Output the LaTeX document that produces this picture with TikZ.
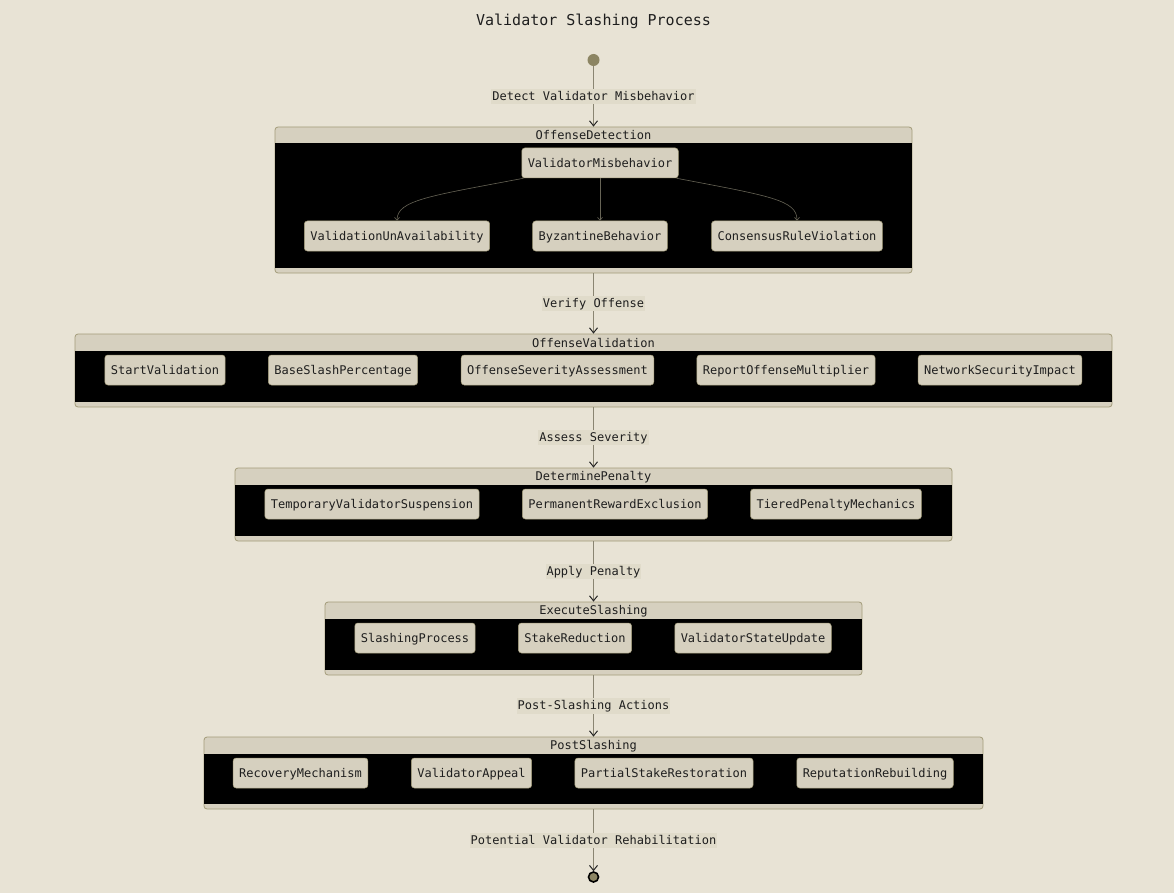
\documentclass[tikz,border=0pt]{standalone}
\usepackage{fontspec}
\setmonofont{DejaVu Sans Mono}
\usetikzlibrary{arrows.meta}
\definecolor{bgc}{HTML}{E8E3D5}
\definecolor{hdr}{HTML}{D6D0BF}
\definecolor{bdr}{HTML}{A39C7A}
\definecolor{lbg}{HTML}{E0DBCA}
\definecolor{olive}{HTML}{8C8563}
\definecolor{lnc}{HTML}{8A8572}
\definecolor{txt}{HTML}{1E1E1E}
\tikzset{
  state/.style={draw=bdr, fill=hdr, rounded corners=3pt, minimum height=30pt, inner xsep=6pt, inner ysep=0pt, text height=10pt, text depth=1.5pt, font=\ttfamily\fontsize{12}{14}\selectfont, text=txt, line width=0.5pt},
  container/.style={draw=bdr, fill=hdr, rounded corners=3pt, line width=0.8pt, inner sep=0pt},
  ctitle/.style={font=\ttfamily\fontsize{12}{14}\selectfont, text=txt, inner sep=0pt},
  elabel/.style={fill=lbg, font=\ttfamily\fontsize{12}{14}\selectfont, text=txt, inner xsep=1pt, inner ysep=2pt, text height=9.5pt, text depth=2pt},
  arr/.style={draw=lnc, line width=0.8pt, -{Straight Barb[length=5pt,width=8pt,line width=1pt,color=black!85]}},
  iarr/.style={draw=lnc!75!black, line width=0.6pt, -{Straight Barb[length=3pt,width=5pt]}},
}
\begin{document}
\begin{tikzpicture}[x=1pt,y=-1pt]
\fill[bgc] (0,0) rectangle (1174,893);
\useasboundingbox (0,0) rectangle (1174,893);

\node[font=\ttfamily\fontsize{15}{18}\selectfont, text=txt] (title) at (593.5,21) {Validator Slashing Process};

\node[circle, fill=olive, minimum size=12pt, inner sep=0pt] (init) at (593.5,60) {};

% Container 1
\node[container, minimum width=637pt, minimum height=146pt] (c1) at (593.5,200) {};
\fill[black] (275.4,143) rectangle (911.6,268);
\node[ctitle] (c1t) at (593.5,135.5) {OffenseDetection};
\node[state] (vm) at (600,163) {ValidatorMisbehavior};
\node[state] (vua) at (397,236) {ValidationUnAvailability};
\node[state] (bb) at (600,236) {ByzantineBehavior};
\node[state] (crv) at (797,236) {ConsensusRuleViolation};
\draw[iarr] ([xshift=2pt]vm.south west) .. controls (430,196) and (397,200) .. (vua.north);
\draw[iarr] (vm.south) -- (bb.north);
\draw[iarr] ([xshift=-2pt]vm.south east) .. controls (770,196) and (797,200) .. (crv.north);

% Container 2
\node[container, minimum width=1037pt, minimum height=73pt] (c2) at (593.5,370.5) {};
\fill[black] (75.4,351) rectangle (1111.6,402);
\node[ctitle] (c2t) at (593.5,343) {OffenseValidation};
\node[state] (sv) at (165,370) {StartValidation};
\node[state] (bsp) at (343,370) {BaseSlashPercentage};
\node[state] (osa) at (557.5,370) {OffenseSeverityAssessment};
\node[state] (rom) at (786,370) {ReportOffenseMultiplier};
\node[state] (nsi) at (1000,370) {NetworkSecurityImpact};

% Container 3
\node[container, minimum width=717pt, minimum height=73pt] (c3) at (593.5,504.5) {};
\fill[black] (235.4,485) rectangle (951.6,536);
\node[ctitle] (c3t) at (593.5,477) {DeterminePenalty};
\node[state] (tvs) at (372,504) {TemporaryValidatorSuspension};
\node[state] (pre) at (615,504) {PermanentRewardExclusion};
\node[state] (tpm) at (836,504) {TieredPenaltyMechanics};

% Container 4
\node[container, minimum width=537pt, minimum height=73pt] (c4) at (593.5,638.5) {};
\fill[black] (325.4,619) rectangle (861.6,670);
\node[ctitle] (c4t) at (593.5,611) {ExecuteSlashing};
\node[state] (sp) at (415,638) {SlashingProcess};
\node[state] (sr) at (575,638) {StakeReduction};
\node[state] (vsu) at (753,638) {ValidatorStateUpdate};

% Container 5
\node[container, minimum width=779pt, minimum height=72pt] (c5) at (593.5,773) {};
\fill[black] (204.4,754) rectangle (982.6,804);
\node[ctitle] (c5t) at (593.5,746) {PostSlashing};
\node[state] (rm) at (300.5,773) {RecoveryMechanism};
\node[state] (va) at (471.5,773) {ValidatorAppeal};
\node[state] (psr) at (664,773) {PartialStakeRestoration};
\node[state] (rr) at (875,773) {ReputationRebuilding};

% Final
\node[circle, draw=black, line width=1.6pt, fill=olive, minimum size=10pt, inner sep=0pt] (fin) at (593.5,877) {};

% Main flow
\draw[arr] (init) -- (c1.north) node[midway, elabel] {Detect Validator Misbehavior};
\draw[arr] (c1.south) -- (c2.north) node[midway, elabel] {Verify Offense};
\draw[arr] (c2.south) -- (c3.north) node[midway, elabel] {Assess Severity};
\draw[arr] (c3.south) -- (c4.north) node[midway, elabel] {Apply Penalty};
\draw[arr] (c4.south) -- (c5.north) node[midway, elabel] {Post-Slashing Actions};
\draw[arr] (c5.south) -- (fin) node[midway, elabel] {Potential Validator Rehabilitation};
\end{tikzpicture}
\end{document}
